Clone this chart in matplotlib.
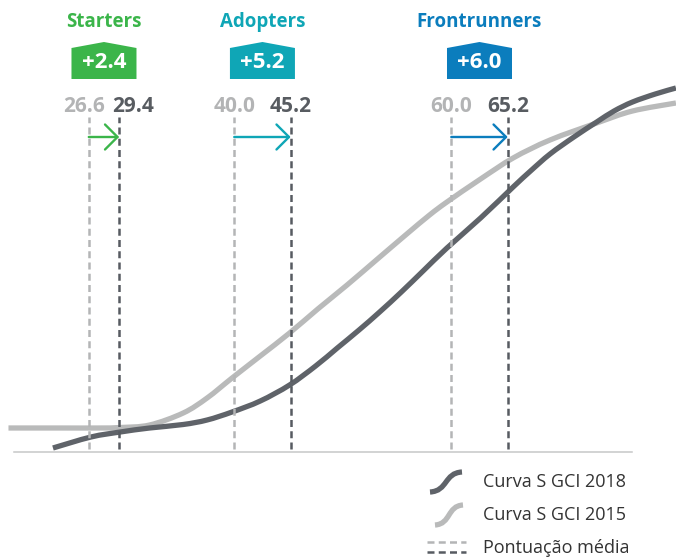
import matplotlib
matplotlib.use("Agg")
import matplotlib.pyplot as plt
from matplotlib.patches import Polygon, PathPatch
from matplotlib.path import Path

plt.rcParams['font.family'] = ['Open Sans', 'DejaVu Sans']

# ---------------- data ----------------
groups = ["Starters", "Adopters", "Frontrunners"]
score_2015 = [26.6, 40.0, 60.0]
score_2018 = [29.4, 45.2, 65.2]
deltas = ["+2.4", "+5.2", "+6.0"]
group_colors = ["#3bb54a", "#0fa6b6", "#0b7dbd"]

curve2015_x = [19.2, 24.0, 27.6, 29.5, 32.2, 35.3, 37.5, 39.8, 42.4, 45.1, 47.7, 50.4,
               53.2, 55.9, 58.0, 59.6, 62.7, 65.7, 69.1, 73.4, 76.7, 80.7]
curve2015_y = [24, 24, 24, 24.5, 27, 39, 54, 74, 96, 119, 143, 167,
               193, 218, 237, 250, 273, 294, 312, 329, 341, 349]

curve2018_x = [23.3, 26.8, 29.5, 32.2, 35.3, 37.5, 39.8, 42.4, 45.1, 47.5, 49.5, 51.5, 53.4,
               55.4, 57.4, 59.6, 62.7, 65.7, 67.3, 69.1, 71.3, 73.4, 75.0, 76.7, 78.8, 80.7]
curve2018_y = [4, 15, 20, 24, 27.5, 32, 40, 51, 67, 86, 104, 122, 140,
               160, 181, 204, 234, 265, 281, 298, 315, 330, 341, 350, 358, 364]

legend_labels = ["Curva S GCI 2018", "Curva S GCI 2015", "Pontuação média"]

# ---------------- style ----------------
W, H = 676, 559
C_LIGHT = "#b9baba"
C_DARK = "#5f6369"
C_LIGHT_TXT = "#b3b4b5"
C_DARK_TXT = "#585c61"
PX_PER_UNIT = 10.853
X0 = -199.9  # pixel of score 0

fig = plt.figure(figsize=(W / 100, H / 100), dpi=100)
ax = fig.add_axes([0, 0, 1, 1])
ax.set_xlim((0 - X0) / PX_PER_UNIT, (W - X0) / PX_PER_UNIT)
ax.set_ylim(452 - H, 452)
ax.axis("off")


def P(x, y):
    return (x / W, 1 - y / H)


def smooth_path(xs, ys):
    """Catmull-Rom spline through the points, as cubic Bezier path."""
    pts = list(zip(xs, ys))
    n = len(pts)
    verts = [pts[0]]
    codes = [Path.MOVETO]
    for i in range(n - 1):
        p0 = pts[i - 1] if i > 0 else pts[i]
        p1 = pts[i]
        p2 = pts[i + 1]
        p3 = pts[i + 2] if i + 2 < n else pts[i + 1]
        c1 = (p1[0] + (p2[0] - p0[0]) / 6, p1[1] + (p2[1] - p0[1]) / 6)
        c2 = (p2[0] - (p3[0] - p1[0]) / 6, p2[1] - (p3[1] - p1[1]) / 6)
        verts += [c1, c2, p2]
        codes += [Path.CURVE4] * 3
    return Path(verts, codes)


# baseline
ax.plot([P(14, 0)[0], P(632, 0)[0]], [P(0, 452)[1]] * 2, transform=ax.transAxes,
        color="#c6c7c8", lw=1.1, zorder=1)

# curves
ax.add_patch(PathPatch(smooth_path(curve2015_x, curve2015_y), facecolor="none",
                       edgecolor=C_LIGHT, lw=3.8, capstyle="butt", zorder=2))
ax.add_patch(PathPatch(smooth_path(curve2018_x, curve2018_y), facecolor="none",
                       edgecolor=C_DARK, lw=3.8, capstyle="butt", zorder=3))

# dashed average lines
for v in score_2015:
    ax.plot([v, v], [3, 335], color="#b4b5b6", lw=1.8, ls=(0, (2.8, 1.7)), zorder=4)
for v in score_2018:
    ax.plot([v, v], [3, 335], color="#575b61", lw=1.8, ls=(0, (2.8, 1.7)), zorder=4)

half_w = 32.5 / PX_PER_UNIT
for g, a, b, d, col in zip(groups, score_2015, score_2018, deltas, group_colors):
    mid = (a + b) / 2
    # title
    ax.text(mid, 452 - 22, g, color=col, fontsize=13.5, fontweight="bold",
            ha="center", va="center", zorder=6)
    # badge
    badge = Polygon([(mid - half_w, 452 - 79), (mid - half_w, 452 - 48), (mid, 452 - 42),
                     (mid + half_w, 452 - 48), (mid + half_w, 452 - 79)],
                    closed=True, facecolor=col, edgecolor="none", zorder=5)
    ax.add_patch(badge)
    ax.text(mid, 452 - 63, d, color="white", fontsize=16, fontweight="bold",
            ha="center", va="center", zorder=6)
    # value labels
    if (b - a) * PX_PER_UNIT < 50:
        ax.text(mid + 1 / PX_PER_UNIT, 452 - 106, f"{a:.1f}", color=C_LIGHT_TXT,
                fontsize=15, fontweight="bold", ha="right", va="center", zorder=6)
        ax.text(mid + 8 / PX_PER_UNIT, 452 - 106, f"{b:.1f}", color=C_DARK_TXT,
                fontsize=15, fontweight="bold", ha="left", va="center", zorder=6)
    else:
        ax.text(a, 452 - 106, f"{a:.1f}", color=C_LIGHT_TXT, fontsize=15,
                fontweight="bold", ha="center", va="center", zorder=6)
        ax.text(b, 452 - 106, f"{b:.1f}", color=C_DARK_TXT, fontsize=15,
                fontweight="bold", ha="center", va="center", zorder=6)
    # arrow
    ax.annotate("", xy=(b, 452 - 137), xytext=(a, 452 - 137),
                arrowprops=dict(arrowstyle="->,head_length=0.5,head_width=0.5",
                                color=col, lw=1.7, mutation_scale=18,
                                shrinkA=0, shrinkB=0),
                zorder=6)

# ---------------- legend ----------------
def s_icon(x0, y0, x1, y1, color):
    xm = (x0 + x1) / 2
    verts = [P(x0, y0), P(xm + 2, y0 - 1), P(xm - 2, y1 + 1), P(x1, y1)]
    path = Path(verts, [Path.MOVETO, Path.CURVE4, Path.CURVE4, Path.CURVE4])
    ax.add_patch(PathPatch(path, transform=ax.transAxes, facecolor="none",
                           edgecolor=color, lw=3.8, capstyle="butt", zorder=5))


s_icon(430, 492, 462, 472, C_DARK)
s_icon(435, 525, 463, 505, C_LIGHT)
ax.plot([P(427, 0)[0], P(466, 0)[0]], [P(0, 542)[1]] * 2, transform=ax.transAxes,
        color="#b4b5b6", lw=1.8, ls=(0, (2.8, 1.7)), zorder=5)
ax.plot([P(427, 0)[0], P(466, 0)[0]], [P(0, 552)[1]] * 2, transform=ax.transAxes,
        color="#575b61", lw=1.8, ls=(0, (2.8, 1.7)), zorder=5)

for lbl, yy in zip(legend_labels, [482, 515, 548]):
    ax.text(*P(483, yy), lbl, transform=ax.transAxes, color="#333333", fontsize=13,
            ha="left", va="center", zorder=6)

fig.savefig("out.png", dpi=100)
